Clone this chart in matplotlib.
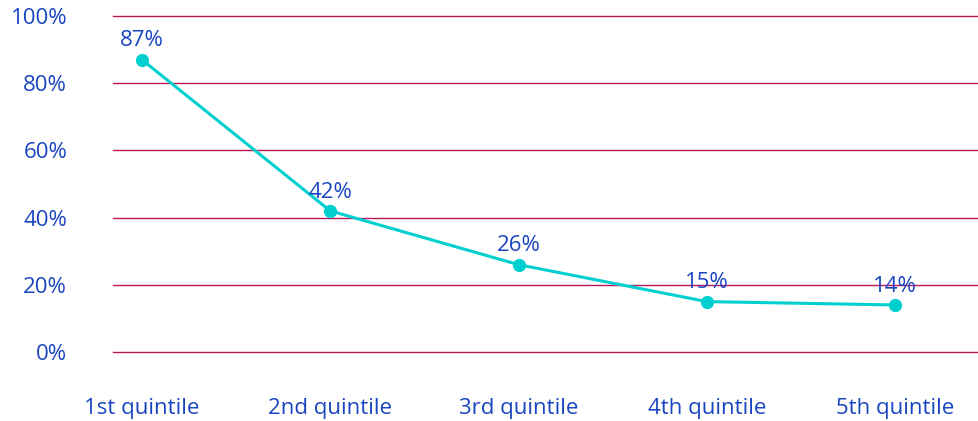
import matplotlib.pyplot as plt

quintiles = ["1st quintile", "2nd quintile", "3rd quintile", "4th quintile", "5th quintile"]
share = [87, 42, 26, 15, 14]
y_ticks = [0, 20, 40, 60, 80, 100]

TEXT = "#1A45C0"
GRID = "#B8175A"
LINE = "#00CFCF"

plt.rcParams["font.family"] = ["Open Sans", "DejaVu Sans"]

fig = plt.figure(figsize=(9.79, 4.21), dpi=100)
ax = fig.add_axes([0.1154, 0.1639, 0.8846, 0.798])

x = list(range(len(quintiles)))
ax.plot(x, share, color=LINE, linewidth=2.2, marker="o", markersize=8.5, zorder=3)

for xi, v in zip(x, share):
    ax.annotate(f"{v}%", (xi, v), xytext=(0, 6), textcoords="offset points",
                ha="center", va="bottom", color=TEXT, fontsize=16)

ax.set_ylim(0, 100)
ax.set_xlim(-0.154, 4.446)
ax.set_yticks(y_ticks)
ax.set_yticklabels([f"{t}%" for t in y_ticks])
ax.set_xticks(x)
ax.set_xticklabels(quintiles)
ax.yaxis.grid(True, color=GRID, linewidth=1.0)
# keep the 0% and 100% rules fully visible at the axes edges
for gl in ax.get_ygridlines():
    gl.set_clip_on(False)
ax.set_axisbelow(True)
ax.tick_params(axis="y", length=0, pad=33, labelsize=16, labelcolor=TEXT)
ax.tick_params(axis="x", length=0, pad=33, labelsize=16, labelcolor=TEXT)
for s in ax.spines.values():
    s.set_visible(False)

fig.savefig("out.png", dpi=100)
